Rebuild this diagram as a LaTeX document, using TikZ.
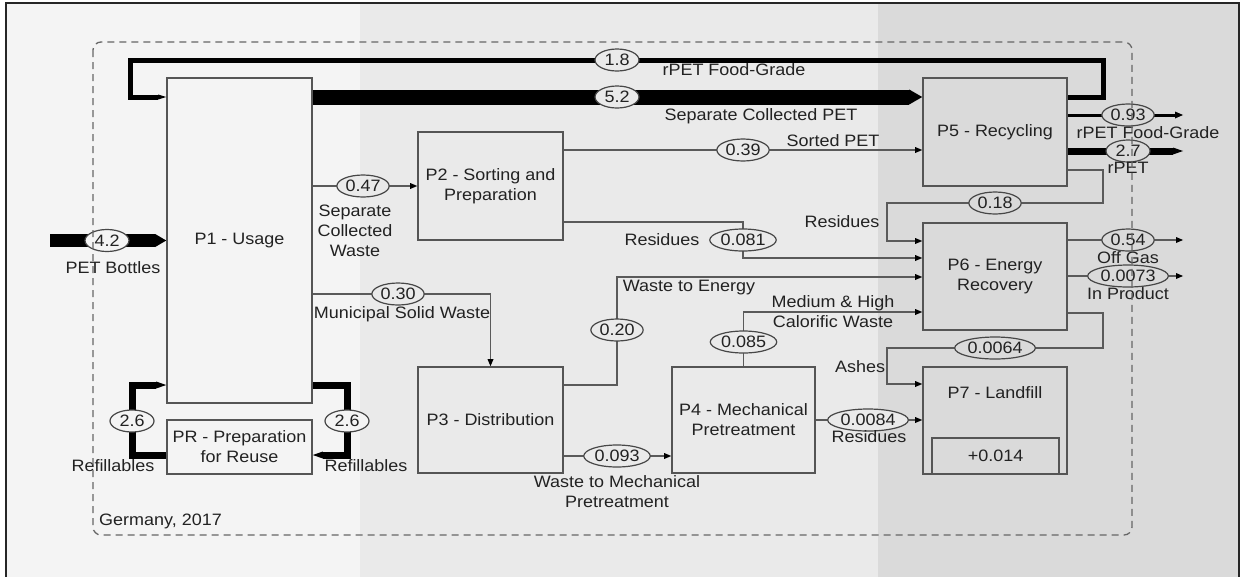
\documentclass[tikz,border=0pt]{standalone}
\usepackage{fontspec}
\setmainfont{Liberation Sans}[FakeStretch=1.09]
\usetikzlibrary{arrows.meta,shapes.geometric,calc}
\pgfdeclarelayer{back}
\pgfdeclarelayer{lines}
\pgfsetlayers{back,lines,main}
\definecolor{bgL}{HTML}{F4F4F4}
\definecolor{bgM}{HTML}{EAEAEA}
\definecolor{bgR}{HTML}{DADADA}
\definecolor{edgec}{HTML}{555555}
\definecolor{flowc}{HTML}{5A5A5A}
\definecolor{txt}{HTML}{222222}
\begin{document}
\begin{tikzpicture}[x=1pt,y=-1pt,
  every node/.style={font=\fontsize{16.5}{20}\selectfont, text=txt},
  proc/.style={draw=edgec, line width=1.6pt, rectangle, inner sep=2pt, align=center},
  num/.style={ellipse, draw=black!72, line width=1.2pt, inner xsep=1pt, inner ysep=0pt,
              text height=11.8pt, text depth=0pt, minimum height=22pt, minimum width=44pt},
  lab/.style={inner sep=0pt, text height=11.8pt, text depth=0pt},
  mlab/.style={inner sep=0pt, align=center},
  fl/.style={draw=flowc, line width=1.5pt, -{Triangle[length=7pt,width=6pt,line width=0pt,color=black]}},
  bar/.style 2 args={draw=black, line width=#1, -{Triangle[length=#2,width=#1,line width=0pt]}}
]
\path[use as bounding box] (0,0) rectangle (1246,576);
\begin{pgfonlayer}{back}
  \fill[white] (0,0) rectangle (1246,576);
  \fill[bgL] (6,3) rectangle (360,578);
  \fill[bgM] (360,3) rectangle (878,578);
  \fill[bgR] (878,3) rectangle (1239,578);
  \draw[black!85, line width=2pt] (6,3) rectangle (1239,580);
\end{pgfonlayer}

% processes
\node[proc, minimum width=145pt, minimum height=325pt] (P1) at (239.5,240.5) {P1 - Usage};
\node[proc, minimum width=145pt, minimum height=54pt] (PR) at (239.5,447) {PR - Preparation\\for Reuse};
\node[proc, minimum width=145pt, minimum height=108pt] (P2) at (490.5,186) {P2 - Sorting and\\Preparation};
\node[proc, minimum width=145pt, minimum height=106pt] (P3) at (490.5,420) {P3 - Distribution};
\node[proc, minimum width=143pt, minimum height=106pt] (P4) at (743.5,420) {P4 - Mechanical\\Pretreatment};
\node[proc, minimum width=144pt, minimum height=108pt] (P5) at (995,132) {P5 - Recycling};
\node[proc, minimum width=144pt, minimum height=107pt] (P6) at (995,276.5) {P6 - Energy\\Recovery};
\node[proc, minimum width=144pt, minimum height=107pt] (P7) at (995,420.5) {};
\node[lab] (P7t) at (995,393) {P7 - Landfill};
\node[proc, minimum width=127pt, minimum height=36pt] (P7s) at (995.5,456) {+0.014};

% flow values
\node[num, fill=bgL] (e42) at (107,240.5) {4.2};
\node[num, fill=bgM] (e18) at (617,60) {1.8};
\node[num, fill=bgM] (e52) at (617,97) {5.2};
\node[num, fill=bgM] (e047) at (363,186) {0.47};
\node[num, fill=bgM] (e030) at (398,294) {0.30};
\node[num, fill=bgL] (e26L) at (132,421) {2.6};
\node[num, fill=bgL] (e26R) at (347,421) {2.6};
\node[num, fill=bgM] (e039) at (743,150) {0.39};
\node[num, fill=bgM] (e081) at (743,240) {0.081};
\node[num, fill=bgR] (e018) at (995,203) {0.18};
\node[num, fill=bgM] (e020) at (617,330) {0.20};
\node[num, fill=bgM] (e093) at (617,456) {0.093};
\node[num, fill=bgM] (e085) at (743.5,342) {0.085};
\node[num, fill=bgM] (e0084) at (868,420) {0.0084};
\node[num, fill=bgR] (e0064) at (995,348) {0.0064};
\node[num, fill=bgR] (e93) at (1128,115) {0.93};
\node[num, fill=bgR] (e27) at (1128,151) {2.7};
\node[num, fill=bgR] (e054) at (1128,240) {0.54};
\node[num, fill=bgR] (e0073) at (1128,276) {0.0073};

% connectors
\begin{pgfonlayer}{lines}
  \coordinate (in42) at (50,240.5);
  \draw[bar={13pt}{11pt}] (in42) -- (P1.west);
  \coordinate (c18a) at (1103,60);
  \coordinate (c18b) at (130,60);
  \draw[bar={5pt}{8pt}] (P5.east |- e52) -| (c18a) -- (c18b) |- (P1.west |- e52);
  \draw[bar={15pt}{13pt}] (P1.east |- e52) -- (P5.west |- e52);
  \draw[fl] (P1.east |- e047) -- (P2.west |- e047);
  \draw[fl] (P1.east |- e030) -| (P3.north);
  \coordinate (rL1) at (132,455);
  \coordinate (rL2) at (132,385);
  \draw[bar={7pt}{10pt}] (PR.west |- rL1) -- (rL1) -- (rL2) -- (P1.west |- rL2);
  \coordinate (rR1) at (347,385);
  \coordinate (rR2) at (347,455);
  \draw[bar={7pt}{10pt}] (P1.east |- rR1) -- (rR1) -- (rR2) -- (PR.east |- rR2);
  \draw[fl] (P2.east |- e039) -- (P5.west |- e039);
  \coordinate (c081a) at (743,222);
  \coordinate (c081b) at (743,258);
  \draw[fl] (P2.east |- c081a) -- (c081a) -- (c081b) -- (P6.west |- c081b);
  \coordinate (r1) at (1103,170);
  \coordinate (r2) at (1103,203);
  \coordinate (r3) at (887,203);
  \coordinate (r4) at (887,241);
  \draw[fl] (P5.east |- r1) -- (r1) -- (r2) -- (r3) -- (r4) -- (P6.west |- r4);
  \coordinate (c20a) at (617,385);
  \coordinate (c20b) at (617,277);
  \draw[fl] (P3.east |- c20a) -- (c20a) -- (c20b) -- (P6.west |- c20b);
  \draw[fl] (P3.east |- e093) -- (P4.west |- e093);
  \coordinate (c85) at (743.5,312);
  \draw[fl] (P4.north) -- (c85) -- (P6.west |- c85);
  \draw[fl] (P4.east |- e0084) -- (P7.west |- e0084);
  \coordinate (a1) at (1103,313);
  \coordinate (a2) at (1103,348);
  \coordinate (a3) at (887,348);
  \coordinate (a4) at (887,384);
  \draw[fl] (P6.east |- a1) -- (a1) -- (a2) -- (a3) -- (a4) -- (P7.west |- a4);
  \coordinate (o93) at (1183,115);
  \draw[draw=black, line width=3pt, -{Triangle[length=8pt,width=7pt,line width=0pt]}] (P5.east |- o93) -- (o93);
  \coordinate (o27) at (1183,151);
  \draw[bar={7pt}{10pt}] (P5.east |- o27) -- (o27);
  \coordinate (o54) at (1183,240);
  \draw[fl] (P6.east |- o54) -- (o54);
  \coordinate (o73) at (1183,276);
  \draw[fl] (P6.east |- o73) -- (o73);
\end{pgfonlayer}

% labels
\node[lab] (l42) at (113,268) {PET Bottles};
\node[lab] (l18) at (734,70) {rPET Food-Grade};
\node[lab] (l52) at (761,115) {Separate Collected PET};
\node[mlab] (l047) at (355,231) {Separate\\Collected\\Waste};
\node[lab] (l030) at (402,313) {Municipal Solid Waste};
\node[lab] (l26L) at (113,466) {Refillables};
\node[lab] (l26R) at (366,466) {Refillables};
\node[lab] (l039) at (833,141) {Sorted PET};
\node[lab] (l081) at (662,240) {Residues};
\node[lab] (l018) at (842,222) {Residues};
\node[lab] (l020) at (689,286) {Waste to Energy};
\node[mlab] (l093) at (617,492) {Waste to Mechanical\\Pretreatment};
\node[mlab] (l085) at (833,312) {Medium \& High\\Calorific Waste};
\node[lab] (l0084) at (869,437) {Residues};
\node[lab] (l0064) at (860,367) {Ashes};
\node[lab] (l93) at (1148,133) {rPET Food-Grade};
\node[lab] (l27) at (1128,168) {rPET};
\node[lab] (l054) at (1128,258) {Off Gas};
\node[lab] (l0073) at (1128,294) {In Product};
\node[lab, anchor=west] (lg) at (99,520) {Germany, 2017};

% system boundary
\draw[black!60, line width=1.3pt, dash pattern=on 7pt off 5pt, rounded corners=8pt] (93,42) rectangle (1132,535);
\end{tikzpicture}
\end{document}
